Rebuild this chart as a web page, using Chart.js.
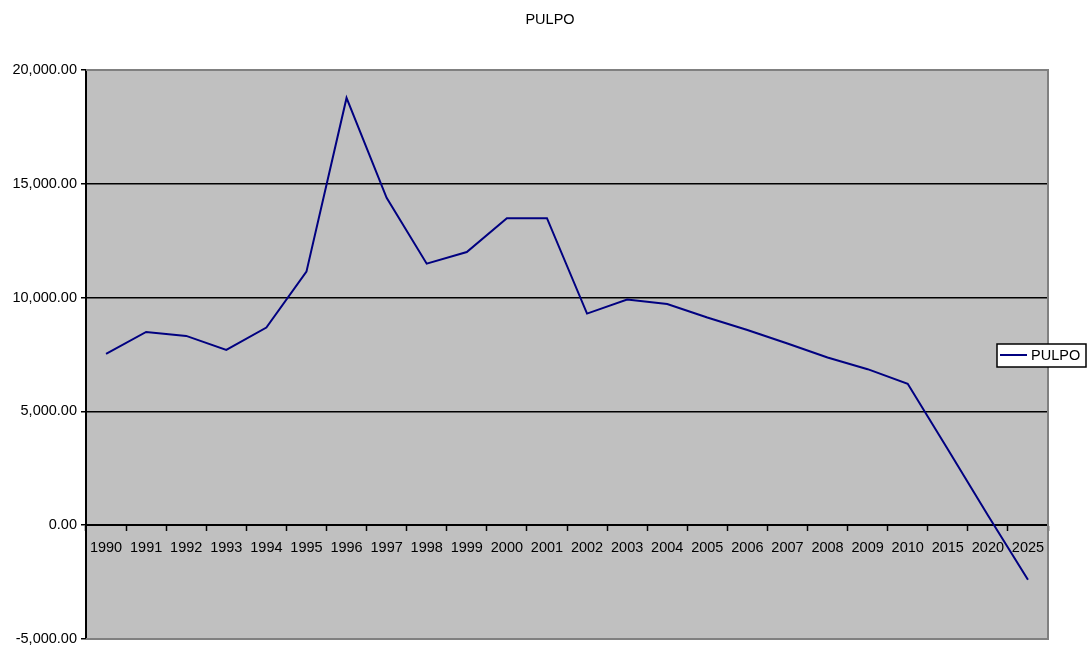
<!DOCTYPE html>
<html>
<head>
<meta charset="utf-8">
<title>PULPO</title>
<script src="https://cdn.jsdelivr.net/npm/chart.js@4/dist/chart.umd.min.js"></script>
<style>
  html, body { margin: 0; padding: 0; background: #ffffff; }
  #wrap { width: 1089px; height: 648px; position: relative; }
</style>
</head>
<body>
<div id="wrap"><canvas id="c" width="1089" height="648"></canvas></div>
<script>
// Years on the category axis
const years = ['1990', '1991', '1992', '1993', '1994', '1995', '1996', '1997', '1998', '1999',
  '2000', '2001', '2002', '2003', '2004', '2005', '2006', '2007', '2008', '2009',
  '2010', '2015', '2020', '2025'];

// PULPO series
const pulpo = [7526, 8491, 8316, 7702, 8684, 11140, 18772, 14386, 11491, 12000,
  13491, 13491, 9298, 9912, 9719, 9123, 8579, 7982, 7368, 6855,
  6211, 3333, 439, -2399];

// Value axis range and step
const yMin = -5000;
const yMax = 20000;
const yStep = 5000;

const seriesName = 'PULPO';
const chartTitle = 'PULPO';

const FONT = "'Liberation Sans', Arial, sans-serif";
Chart.defaults.font.family = FONT;
Chart.defaults.font.size = 14.5;
Chart.defaults.color = '#000000';

// Title, gray plot area, frame and a boxed legend drawn over the plot's right edge
const plotDecor = {
  id: 'plotDecor',
  beforeDraw(chart) {
    const { ctx, chartArea: a } = chart;
    ctx.save();
    ctx.fillStyle = '#c0c0c0';
    ctx.fillRect(a.left, a.top, a.right - a.left, a.bottom - a.top);
    ctx.fillStyle = '#000000';
    ctx.font = '14.5px ' + FONT;
    ctx.textAlign = 'center';
    ctx.textBaseline = 'middle';
    ctx.fillText(chartTitle, 550, 20);
    ctx.restore();
  },
  beforeDatasetsDraw(chart) {
    const { ctx, chartArea: a } = chart;
    ctx.save();
    ctx.strokeStyle = '#808080';
    ctx.lineWidth = 2;
    ctx.beginPath();
    ctx.moveTo(a.left, a.top);
    ctx.lineTo(a.right, a.top);
    ctx.lineTo(a.right, a.bottom);
    ctx.lineTo(a.left, a.bottom);
    ctx.stroke();
    ctx.restore();
  },
  afterDraw(chart) {
    const { ctx } = chart;
    const ds = chart.data.datasets[0];
    const x = 997, y = 344, w = 89, h = 23;
    ctx.save();
    ctx.fillStyle = '#ffffff';
    ctx.fillRect(x, y, w, h);
    ctx.strokeStyle = '#000000';
    ctx.lineWidth = 1.5;
    ctx.strokeRect(x, y, w, h);
    ctx.strokeStyle = ds.borderColor;
    ctx.lineWidth = 2;
    ctx.beginPath();
    ctx.moveTo(x + 3, y + 11);
    ctx.lineTo(x + 30, y + 11);
    ctx.stroke();
    ctx.fillStyle = '#000000';
    ctx.font = '14.5px ' + FONT;
    ctx.textBaseline = 'middle';
    ctx.textAlign = 'left';
    ctx.fillText(ds.label, x + 34, y + 12);
    ctx.restore();
  }
};

new Chart(document.getElementById('c'), {
  type: 'line',
  data: {
    labels: years,
    datasets: [{
      label: seriesName,
      data: pulpo,
      borderColor: '#000080',
      backgroundColor: '#000080',
      borderWidth: 2,
      pointRadius: 0,
      tension: 0,
      fill: false
    }]
  },
  options: {
    responsive: false,
    animation: false,
    devicePixelRatio: 1,
    layout: { padding: { left: 0, right: 41, top: 70, bottom: 9 } },
    plugins: {
      legend: { display: false },
      tooltip: { enabled: false },
      title: { display: false }
    },
    scales: {
      x: {
        type: 'category',
        position: { y: 0 },
        offset: true,
        grid: {
          offset: true,
          drawOnChartArea: false,
          drawTicks: true,
          tickLength: 5,
          tickColor: '#000000',
          tickWidth: 1.5
        },
        border: { display: true, color: '#000000', width: 2 },
        ticks: {
          autoSkip: false,
          maxRotation: 0,
          padding: 9,
          color: '#000000'
        },
        afterFit(scale) {
          scale.height = 0;
          scale.paddingLeft = 0;
          scale.paddingRight = 0;
        }
      },
      y: {
        min: yMin,
        max: yMax,
        grid: {
          color: (c) => (c.tick && (c.tick.value === yMax || c.tick.value === yMin)) ? 'rgba(0,0,0,0)' : '#000000',
          lineWidth: 1.5,
          drawTicks: true,
          tickLength: 5,
          tickColor: '#000000',
          tickWidth: 1.5
        },
        border: { display: true, color: '#000000', width: 2 },
        ticks: {
          stepSize: yStep,
          padding: 4,
          color: '#000000',
          callback: (v) => Number(v).toLocaleString('en-US', { minimumFractionDigits: 2, maximumFractionDigits: 2 })
        },
        afterFit(scale) {
          scale.width = 86;
          scale.paddingTop = 0;
          scale.paddingBottom = 0;
        }
      }
    }
  },
  plugins: [plotDecor]
});
</script>
</body>
</html>
